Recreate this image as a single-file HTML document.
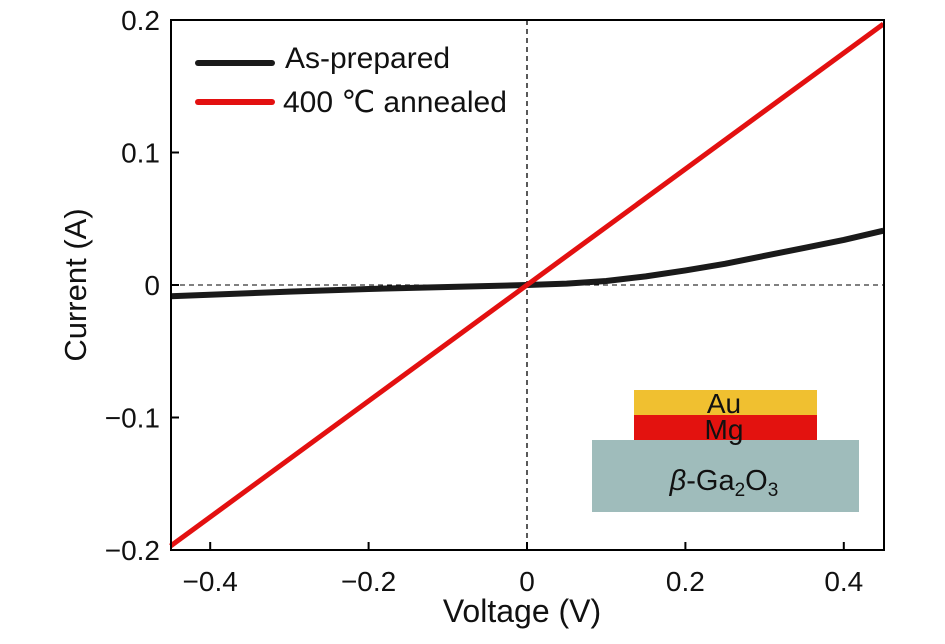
<!DOCTYPE html>
<html><head><meta charset="utf-8"><style>
body{margin:0;background:#fff;}
svg text{font-family:"Liberation Sans",sans-serif;fill:#111;}
</style></head><body>
<svg width="945" height="639" viewBox="0 0 945 639">
<g id="plot"></g>
</svg>
<script>
const xTicks=[-0.4,-0.2,0,0.2,0.4];
const xTickLabels=["\u22120.4","\u22120.2","0","0.2","0.4"];
const yTicks=[0.2,0.1,0,-0.1,-0.2];
const yTickLabels=["0.2","0.1","0","\u22120.1","\u22120.2"];
const voltage=[-0.45,-0.3,-0.2,-0.1,0,0.05,0.1,0.15,0.2,0.25,0.3,0.35,0.4,0.45];
const asPrepared=[-0.0085,-0.005,-0.003,-0.0015,0,0.001,0.003,0.0065,0.011,0.016,0.022,0.028,0.034,0.041];
const annealedV=[-0.45,0.45];
const annealedI=[-0.197,0.197];
const L=171,R=884,T=20,B=550;
const sx=v=>527+v*792;
const sy=i=>285-i*1325;
const NS="http://www.w3.org/2000/svg";
const g=document.getElementById('plot');
function mk(tag,attrs,txt){const e=document.createElementNS(NS,tag);for(const k in attrs)e.setAttribute(k,attrs[k]);if(txt!==undefined)e.textContent=txt;g.appendChild(e);return e;}
let e;
e=mk('line',{x1:L,x2:R,y1:sy(0),y2:sy(0),stroke:'#000','stroke-width':1,'stroke-dasharray':'5,4'});


e=mk('line',{x1:sx(0),x2:sx(0),y1:T,y2:B,stroke:'#000','stroke-width':1.3,'stroke-dasharray':'5,4'});


e=mk('rect',{x:592,y:440,width:267,height:72,fill:'#9fbcbb'});


e=mk('rect',{x:634,y:415,width:183,height:25,fill:'#e3120f'});


e=mk('rect',{x:634,y:390,width:183,height:25,fill:'#f0c030'});


e=mk('text',{x:724,y:413,'text-anchor':'middle','font-size':28},'Au');


e=mk('text',{x:724,y:439,'text-anchor':'middle','font-size':28},'Mg');


e=mk('text',{x:724,y:490,'text-anchor':'middle','font-size':29});
e.innerHTML='<tspan font-style="italic">β</tspan>-Ga<tspan font-size="19" dy="6">2</tspan><tspan dy="-6">O</tspan><tspan font-size="19" dy="6">3</tspan>';


e=mk('polyline',{points:voltage.map((v,i)=>sx(v)+','+sy(asPrepared[i])).join(' '),fill:'none',stroke:'#1a1a1a','stroke-width':6,'stroke-linejoin':'round'});


e=mk('polyline',{points:annealedV.map((v,i)=>sx(v)+','+sy(annealedI[i])).join(' '),fill:'none',stroke:'#e31010','stroke-width':5});


e=mk('rect',{x:L,y:T,width:R-L,height:B-T,fill:'none',stroke:'#000','stroke-width':2});


xTicks.forEach((v,i)=>{
 const t=mk('line',{x1:sx(v),x2:sx(v),y1:B,y2:B-8,stroke:'#000','stroke-width':2});
 
 
 const l=mk('text',{x:sx(v),y:B+41,'text-anchor':'middle','font-size':28},xTickLabels[i]);
 
 
});
yTicks.forEach((v,i)=>{
 const t=mk('line',{x1:L,x2:L+8,y1:sy(v),y2:sy(v),stroke:'#000','stroke-width':2});
 
 
 const l=mk('text',{x:160,y:sy(v)+10,'text-anchor':'end','font-size':28},yTickLabels[i]);
 
 
});
e=mk('text',{x:522,y:622,'text-anchor':'middle','font-size':32},'Voltage (V)');


e=mk('text',{x:0,y:0,'text-anchor':'middle','font-size':31,transform:'translate(86,285) rotate(-90)'},'Current (A)');


e=mk('line',{x1:198,x2:272,y1:63,y2:63,stroke:'#1a1a1a','stroke-width':6,'stroke-linecap':'round'});


e=mk('text',{x:285,y:68,'font-size':30},'As-prepared');


e=mk('line',{x1:198,x2:272,y1:102,y2:102,stroke:'#e31010','stroke-width':6,'stroke-linecap':'round'});


e=mk('text',{x:283,y:112,'font-size':30},'400 \u2103 annealed');


</script>
</body></html>
